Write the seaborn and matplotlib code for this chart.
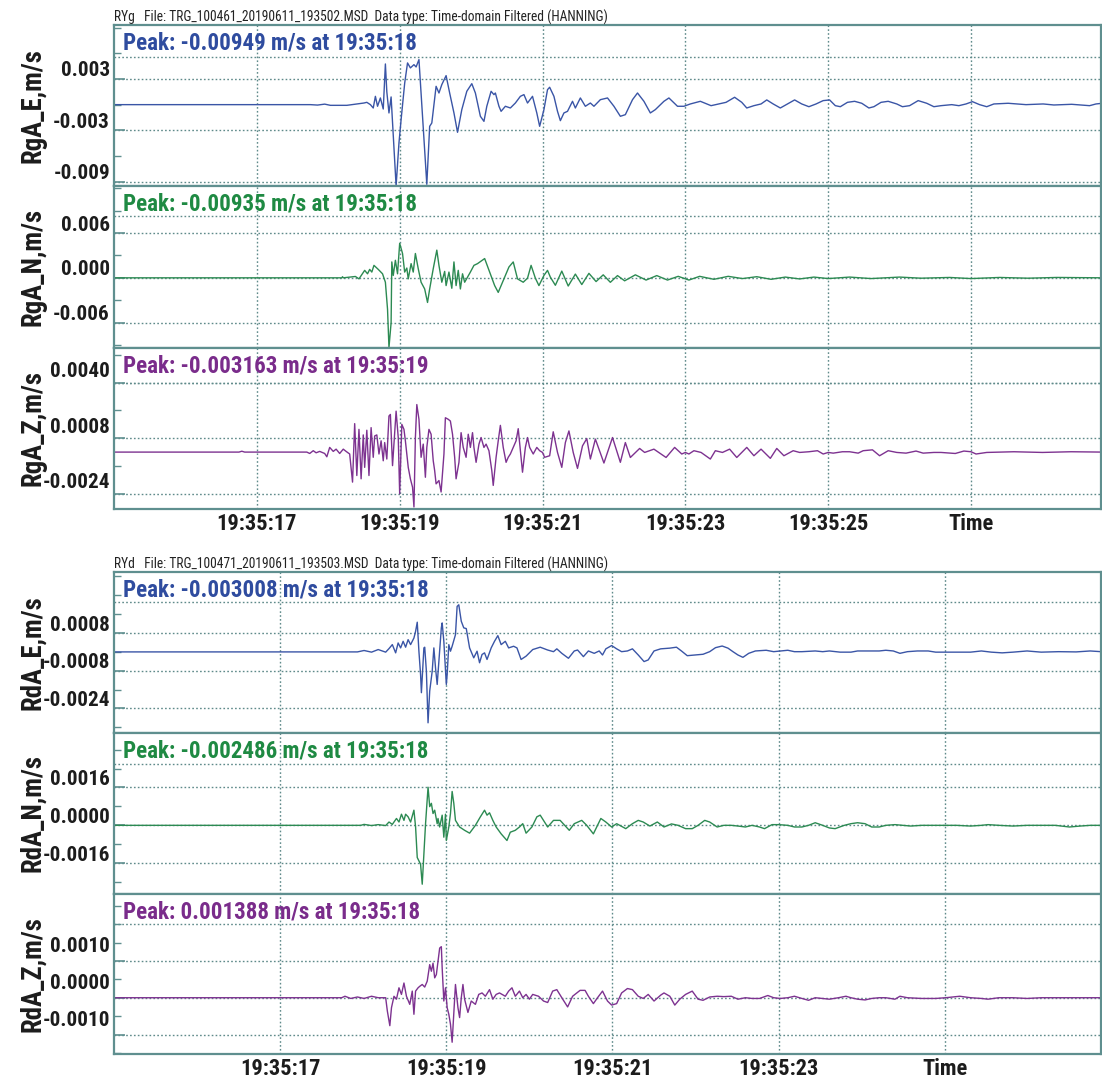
import os
import glob
import matplotlib
matplotlib.use("Agg")
import matplotlib.pyplot as plt
from matplotlib import font_manager
from matplotlib.font_manager import FontProperties
import numpy as np
import pandas as pd
import seaborn as sns

# ------------------------------------------------------------------
# Velocity records, time in seconds after 19:35:00, velocity in mm/s
# ------------------------------------------------------------------
rga_e_t = [15.00, 17.75, 17.85, 17.95, 18.03, 18.26, 18.50, 18.54, 18.59, 18.63, 18.66, 18.69, 18.73, 18.77,
           18.80, 18.82, 18.85, 18.88, 18.95, 18.99, 19.02, 19.07, 19.11, 19.15, 19.20, 19.23, 19.27, 19.38,
           19.42, 19.45, 19.51, 19.55, 19.59, 19.65, 19.70, 19.76, 19.81, 19.87, 19.94, 20.01, 20.06, 20.13,
           20.18, 20.22, 20.28, 20.32, 20.34, 20.39, 20.42, 20.48, 20.55, 20.62, 20.69, 20.74, 20.79, 20.86,
           20.92, 20.96, 21.02, 21.07, 21.10, 21.16, 21.21, 21.25, 21.30, 21.35, 21.42, 21.46, 21.53, 21.60,
           21.67, 21.72, 21.81, 21.91, 22.00, 22.09, 22.16, 22.26, 22.33, 22.42, 22.51, 22.58, 22.70, 22.77,
           22.89, 22.98, 23.07, 23.21, 23.36, 23.47, 23.57, 23.69, 23.79, 23.86, 23.96, 24.06, 24.14, 24.23,
           24.33, 24.43, 24.53, 24.63, 24.73, 24.83, 24.93, 25.02, 25.10, 25.17, 25.27, 25.37, 25.47, 25.57,
           25.64, 25.74, 25.84, 25.96, 26.04, 26.14, 26.26, 26.38, 26.48, 26.58, 26.73, 26.83, 26.93, 27.02,
           27.12, 27.22, 27.32, 27.52, 27.77, 28.01, 28.16, 28.41, 28.66, 28.75, 28.84]
rga_e_v = [0.00, 0.00, -0.05, 0.06, -0.08, -0.08, 0.19, 0.27, 0.00, -0.39, 0.97, -0.19, 0.78, -0.51,
           4.75, 1.50, -0.97, 0.90, -9.49, -4.48, -1.75, 2.50, 4.87, 4.29, 4.67, 4.40, 5.26, -9.30,
           -2.53, -2.14, 2.14, 1.36, 2.34, 3.39, 1.36, -0.97, -3.23, -0.58, 1.56, 2.45, 1.36, -1.36,
           -1.95, -0.19, 1.56, 1.17, 1.36, -0.19, -0.78, -0.19, -0.39, 0.19, 0.97, 1.17, 0.19, 0.97,
           -0.97, -2.53, -0.58, 1.75, 2.03, 0.97, -0.78, -1.87, -0.97, -0.78, 0.39, -0.39, 0.78, -0.19,
           0.19, -0.19, 0.58, 0.78, -0.19, -1.36, -1.17, 0.58, 1.36, 0.39, -0.97, -0.58, 0.39, 0.78,
           -0.19, -0.19, 0.08, 0.39, -0.12, 0.08, 0.27, 0.86, 0.27, -0.39, -0.12, 0.08, 0.55, 0.08,
           -0.39, 0.08, 0.55, 0.08, -0.24, 0.08, 0.47, 0.55, -0.12, -0.24, 0.27, 0.39, 0.16, -0.39,
           -0.24, 0.27, 0.39, 0.08, -0.24, -0.12, 0.47, 0.16, -0.24, -0.12, 0.00, -0.12, 0.08, 0.35,
           0.00, -0.24, 0.08, 0.16, 0.00, 0.08, -0.04, 0.04, -0.12, 0.08, 0.16]

rga_n_t = [15.00, 18.19, 18.20, 18.21, 18.38, 18.43, 18.51, 18.55, 18.58, 18.61, 18.64, 18.70, 18.76, 18.80,
           18.83, 18.85, 18.88, 18.89, 18.91, 18.94, 18.97, 19.00, 19.04, 19.07, 19.10, 19.12, 19.16, 19.19,
           19.22, 19.26, 19.30, 19.35, 19.39, 19.42, 19.47, 19.52, 19.55, 19.59, 19.63, 19.65, 19.69, 19.73,
           19.76, 19.79, 19.82, 19.85, 19.88, 19.91, 19.95, 19.99, 20.04, 20.09, 20.19, 20.26, 20.33, 20.38,
           20.46, 20.53, 20.59, 20.65, 20.73, 20.79, 20.84, 20.90, 20.95, 21.02, 21.07, 21.11, 21.18, 21.27,
           21.36, 21.46, 21.55, 21.65, 21.75, 21.85, 21.95, 22.05, 22.15, 22.30, 22.45, 22.60, 22.75, 22.90,
           23.05, 23.20, 23.40, 23.60, 23.80, 24.00, 24.20, 24.40, 24.60, 24.80, 25.00, 25.30, 25.60, 26.00,
           26.30, 26.70, 27.00, 27.40, 27.80, 28.20, 28.84]
rga_n_v = [0.00, 0.00, 0.15, 0.00, 0.18, -0.14, 1.00, 0.54, 1.13, 0.77, 1.67, 1.13, 0.54, -0.59,
           -4.21, -9.35, -6.02, 2.13, 0.32, 2.35, 0.54, 4.62, 3.26, 0.77, 1.31, -0.14, 1.90, 0.77,
           3.26, 1.22, -0.59, -1.49, -3.30, -1.49, 1.22, 3.71, 1.67, -0.59, 0.86, -1.04, 0.77, -1.40,
           2.13, -1.04, 1.00, -1.49, 0.54, -0.59, 0.09, 0.77, 1.67, 1.90, 2.58, 0.77, -1.04, -1.95,
           -0.14, 1.45, 2.13, -0.14, -0.59, -0.05, 1.67, -0.05, -1.04, 0.32, 1.00, 0.09, -1.00, 0.90,
           -1.10, 0.50, -0.90, 0.60, -0.50, 0.40, -0.60, 0.30, -0.40, 0.40, -0.30, 0.30, -0.30, 0.20,
           -0.30, 0.20, -0.20, 0.20, -0.10, 0.15, -0.20, 0.10, -0.15, 0.10, -0.10, 0.10, -0.10, 0.10,
           -0.05, 0.05, -0.10, 0.05, -0.05, 0.05, 0.00]

rga_z_t = [15.00, 16.75, 16.79, 16.83, 17.70, 17.74, 17.79, 17.83, 17.88, 17.95, 17.98, 18.02, 18.07, 18.11,
           18.16, 18.21, 18.25, 18.30, 18.34, 18.37, 18.40, 18.43, 18.46, 18.49, 18.51, 18.54, 18.57, 18.60,
           18.63, 18.65, 18.68, 18.71, 18.74, 18.77, 18.79, 18.82, 18.85, 18.87, 18.90, 18.93, 18.95, 18.98,
           19.00, 19.03, 19.06, 19.08, 19.12, 19.15, 19.18, 19.20, 19.22, 19.24, 19.27, 19.30, 19.33, 19.36,
           19.38, 19.41, 19.44, 19.47, 19.49, 19.51, 19.55, 19.58, 19.62, 19.64, 19.68, 19.71, 19.74, 19.77,
           19.79, 19.83, 19.86, 19.89, 19.93, 19.96, 19.99, 20.02, 20.04, 20.07, 20.11, 20.14, 20.18, 20.21,
           20.25, 20.29, 20.31, 20.35, 20.38, 20.41, 20.45, 20.49, 20.52, 20.55, 20.59, 20.63, 20.66, 20.69,
           20.72, 20.76, 20.79, 20.82, 20.87, 20.92, 20.96, 21.00, 21.03, 21.10, 21.15, 21.21, 21.27, 21.32,
           21.37, 21.43, 21.49, 21.56, 21.62, 21.67, 21.74, 21.86, 21.98, 22.09, 22.16, 22.23, 22.36, 22.43,
           22.56, 22.73, 22.85, 22.95, 23.00, 23.05, 23.12, 23.22, 23.35, 23.42, 23.52, 23.62, 23.72, 23.86,
           23.96, 24.06, 24.19, 24.28, 24.38, 24.51, 24.60, 24.73, 24.85, 24.93, 25.00, 25.07, 25.20, 25.30,
           25.42, 25.49, 25.62, 25.72, 25.84, 25.96, 26.09, 26.23, 26.33, 26.48, 26.58, 26.78, 26.90, 27.00,
           27.07, 27.22, 27.60, 28.00, 28.40, 28.84]
rga_z_v = [0.00, 0.00, 0.05, 0.00, 0.00, -0.08, 0.08, -0.04, 0.04, -0.08, -0.27, 0.27, 0.04, 0.17,
           -0.08, 0.17, 0.04, -0.11, -1.73, 1.64, -1.35, 1.31, -1.54, 0.99, -0.88, 1.26, -1.35, 1.41,
           -0.30, 0.93, 0.99, -0.11, 0.65, -0.50, 0.55, -0.40, 2.08, 2.17, -0.78, 1.12, 2.36, 0.84,
           -2.40, 1.60, 1.31, 0.65, -0.88, -1.54, -2.02, -3.163, 0.84, 2.74, 1.89, -0.30, 0.46, -1.45,
           0.27, 1.31, 1.03, -0.50, -1.07, -1.83, -1.64, -2.30, -0.11, 1.98, 1.89, 1.79, 1.03, -0.30,
           -1.54, -0.59, 1.12, 0.27, -0.30, 1.03, 0.27, 1.12, 0.27, -0.59, 0.46, 0.84, 0.27, 0.46,
           0.08, -1.07, -1.92, -0.30, 0.65, 1.54, 0.27, -0.59, -0.30, -0.11, 0.27, 0.65, 1.35, 0.08,
           -1.16, 0.27, 0.84, 0.27, -0.11, 0.27, 0.08, -0.02, -0.30, -0.21, 1.17, -0.02, -0.88, 0.55,
           1.22, -0.02, -0.94, 0.36, 0.78, -0.40, 0.75, -0.63, 0.84, -0.59, 0.55, -0.31, 0.21, -0.02,
           0.17, -0.31, 0.27, -0.11, -0.02, -0.11, 0.08, -0.02, -0.40, 0.08, -0.02, 0.17, -0.31, 0.27,
           -0.21, 0.17, -0.36, 0.21, -0.21, 0.08, -0.02, 0.02, 0.08, -0.11, -0.02, -0.06, 0.02, 0.02,
           -0.06, 0.08, 0.13, -0.21, 0.08, -0.02, -0.06, 0.06, -0.06, -0.02, -0.02, -0.08, 0.06, 0.02,
           -0.11, -0.02, 0.02, -0.02, 0.02, 0.00]

rda_e_t = [15.00, 17.93, 18.01, 18.10, 18.18, 18.27, 18.31, 18.35, 18.39, 18.42, 18.45, 18.48, 18.51, 18.54,
           18.57, 18.61, 18.63, 18.65, 18.67, 18.69, 18.70, 18.73, 18.74, 18.76, 18.78, 18.80, 18.83, 18.85,
           18.87, 18.89, 18.92, 18.94, 18.95, 18.97, 19.00, 19.01, 19.03, 19.05, 19.07, 19.11, 19.13, 19.15,
           19.18, 19.21, 19.24, 19.28, 19.33, 19.37, 19.40, 19.43, 19.46, 19.49, 19.54, 19.58, 19.62, 19.66,
           19.71, 19.75, 19.81, 19.85, 19.90, 19.96, 20.04, 20.13, 20.22, 20.29, 20.33, 20.39, 20.47, 20.54,
           20.58, 20.65, 20.71, 20.78, 20.84, 20.88, 20.92, 20.99, 21.05, 21.11, 21.18, 21.24, 21.31, 21.38,
           21.43, 21.50, 21.58, 21.69, 21.77, 21.83, 21.90, 22.00, 22.09, 22.17, 22.24, 22.32, 22.39, 22.45,
           22.51, 22.57, 22.64, 22.72, 22.85, 22.94, 23.02, 23.11, 23.19, 23.28, 23.44, 23.53, 23.61, 23.74,
           23.87, 23.95, 24.04, 24.21, 24.29, 24.38, 24.46, 24.55, 24.67, 24.80, 24.89, 25.01, 25.14, 25.31,
           25.44, 25.56, 25.69, 25.82, 25.99, 26.16, 26.37, 26.58, 26.75, 26.88]
rda_e_v = [0.00, 0.00, 0.06, -0.01, 0.10, -0.01, 0.14, 0.31, -0.04, 0.38, 0.17, 0.45, 0.20, 0.52,
           0.31, 0.59, 0.87, 1.26, 0.03, -0.96, -1.73, 0.17, 0.20, -0.82, -3.008, -1.66, -0.82, 0.17,
           -0.68, -1.38, 0.03, 1.02, 1.23, 0.45, -1.38, -0.96, 0.31, 0.03, 0.24, 0.73, 1.93, 2.00,
           1.30, 1.02, 0.99, 0.17, -0.25, 0.03, -0.46, -0.11, -0.04, -0.32, 0.17, 0.45, 0.69, 0.31,
           0.45, 0.17, 0.24, 0.17, -0.32, -0.18, 0.10, 0.20, 0.08, 0.01, 0.13, -0.06, -0.27, 0.04,
           0.08, -0.20, 0.04, -0.06, 0.04, -0.13, 0.13, 0.27, 0.13, 0.01, 0.04, 0.13, -0.13, -0.41,
           -0.34, 0.04, 0.13, 0.16, 0.20, 0.04, -0.16, -0.13, -0.10, 0.01, 0.18, 0.25, 0.16, 0.01,
           -0.13, -0.23, -0.06, 0.04, 0.07, 0.01, 0.04, 0.07, 0.01, 0.01, 0.04, 0.01, 0.04, -0.01,
           -0.01, 0.04, 0.04, 0.04, 0.07, 0.04, -0.06, 0.01, 0.04, 0.04, -0.01, -0.01, -0.01, -0.01,
           0.04, -0.01, -0.04, -0.01, 0.04, -0.01, 0.01, 0.00, 0.04, 0.01]

rda_n_t = [15.00, 17.97, 18.01, 18.10, 18.18, 18.27, 18.31, 18.35, 18.40, 18.43, 18.46, 18.49, 18.51, 18.54,
           18.57, 18.61, 18.63, 18.65, 18.67, 18.69, 18.71, 18.73, 18.75, 18.78, 18.80, 18.82, 18.84, 18.86,
           18.89, 18.90, 18.92, 18.95, 18.97, 18.99, 19.00, 19.03, 19.05, 19.07, 19.09, 19.11, 19.16, 19.22,
           19.28, 19.35, 19.41, 19.46, 19.49, 19.52, 19.56, 19.60, 19.66, 19.73, 19.77, 19.83, 19.88, 19.92,
           19.96, 20.03, 20.09, 20.13, 20.17, 20.22, 20.29, 20.37, 20.48, 20.54, 20.63, 20.69, 20.77, 20.82,
           20.86, 20.92, 20.99, 21.05, 21.16, 21.24, 21.31, 21.37, 21.45, 21.54, 21.62, 21.71, 21.79, 21.88,
           21.96, 22.03, 22.11, 22.17, 22.26, 22.34, 22.43, 22.51, 22.60, 22.68, 22.77, 22.83, 22.92, 23.00,
           23.11, 23.19, 23.28, 23.36, 23.44, 23.53, 23.61, 23.68, 23.79, 23.87, 23.95, 24.04, 24.12, 24.21,
           24.29, 24.40, 24.50, 24.59, 24.72, 24.85, 25.01, 25.14, 25.31, 25.44, 25.52, 25.65, 25.82, 25.99,
           26.16, 26.33, 26.50, 26.63, 26.75, 26.88]
rda_n_v = [0.00, 0.00, 0.04, -0.01, 0.03, -0.01, 0.14, 0.04, 0.29, 0.14, 0.47, 0.21, 0.47, 0.36,
           0.14, 0.64, -0.07, -1.36, -1.50, -1.64, -2.486, -1.21, 0.07, 1.61, 0.79, 0.93, 0.50, 0.64,
           0.07, 0.29, -0.07, 0.43, -0.50, 0.47, -0.64, -0.07, 0.50, 1.43, 0.93, 0.21, -0.07, -0.21,
           -0.33, 0.00, 0.36, 0.64, 0.43, 0.53, 0.21, -0.07, -0.36, -0.64, -0.29, -0.21, -0.07, 0.07,
           -0.33, -0.07, 0.36, 0.43, 0.21, -0.07, 0.21, 0.21, -0.21, 0.07, 0.21, 0.00, -0.36, 0.00,
           0.29, 0.14, -0.07, 0.07, -0.14, 0.07, 0.21, 0.14, -0.03, 0.14, -0.07, 0.06, 0.00, -0.14,
           -0.14, 0.00, 0.21, 0.14, -0.07, 0.00, 0.00, -0.03, -0.07, 0.00, -0.07, -0.14, 0.03, 0.03,
           0.00, -0.07, -0.07, 0.00, 0.11, 0.00, -0.11, -0.14, 0.00, 0.07, 0.11, 0.07, -0.07, -0.07,
           0.00, 0.03, 0.00, -0.03, 0.00, 0.00, 0.00, 0.00, -0.03, 0.00, 0.03, 0.00, -0.03, 0.00,
           0.00, 0.00, -0.07, -0.03, 0.00, 0.00]

rda_z_t = [15.00, 17.74, 17.78, 17.85, 17.93, 18.01, 18.10, 18.18, 18.27, 18.29, 18.32, 18.34, 18.37, 18.40,
           18.43, 18.46, 18.49, 18.52, 18.56, 18.59, 18.61, 18.63, 18.66, 18.68, 18.71, 18.74, 18.77, 18.80,
           18.82, 18.84, 18.86, 18.88, 18.90, 18.92, 18.94, 18.95, 18.97, 18.99, 19.01, 19.03, 19.05, 19.07,
           19.09, 19.11, 19.14, 19.16, 19.18, 19.20, 19.22, 19.26, 19.30, 19.35, 19.39, 19.43, 19.47, 19.52,
           19.56, 19.60, 19.64, 19.71, 19.75, 19.79, 19.83, 19.88, 19.92, 19.96, 20.00, 20.04, 20.11, 20.17,
           20.22, 20.28, 20.33, 20.39, 20.46, 20.52, 20.61, 20.67, 20.71, 20.77, 20.82, 20.88, 20.94, 20.99,
           21.05, 21.11, 21.18, 21.24, 21.31, 21.37, 21.43, 21.50, 21.58, 21.62, 21.69, 21.75, 21.81, 21.88,
           21.96, 22.03, 22.09, 22.17, 22.26, 22.34, 22.43, 22.51, 22.60, 22.68, 22.77, 22.87, 22.94, 23.02,
           23.11, 23.19, 23.28, 23.36, 23.44, 23.53, 23.61, 23.72, 23.81, 23.87, 23.95, 24.04, 24.12, 24.21,
           24.29, 24.40, 24.46, 24.55, 24.72, 24.89, 25.01, 25.18, 25.31, 25.44, 25.52, 25.65, 25.82, 25.99,
           26.16, 26.50, 26.88]
rda_z_v = [0.00, 0.00, 0.04, -0.02, 0.02, -0.02, 0.04, 0.00, 0.00, -0.36, -0.76, -0.27, 0.04, -0.04,
           0.27, 0.09, 0.40, 0.04, -0.18, 0.18, -0.45, 0.18, 0.27, 0.31, 0.36, 0.29, 0.45, 0.90,
           0.72, 0.94, 0.54, 0.63, 0.99, 1.35, 1.388, 0.81, -0.09, 0.27, -0.27, -0.45, -0.72, -1.21,
           -0.45, 0.36, -0.27, -0.54, 0.00, 0.36, -0.04, -0.40, -0.09, -0.18, 0.09, 0.13, 0.04, 0.22,
           -0.04, 0.09, 0.13, 0.04, 0.18, 0.27, 0.04, 0.18, 0.00, 0.09, -0.04, 0.09, 0.04, -0.09,
           -0.13, 0.18, 0.22, 0.00, -0.25, 0.04, 0.20, 0.20, 0.04, -0.16, 0.00, 0.18, -0.09, -0.20,
           -0.16, 0.13, 0.25, 0.22, 0.04, -0.02, 0.09, -0.09, 0.07, 0.13, 0.04, -0.20, -0.04, 0.09,
           0.18, -0.04, -0.07, 0.02, 0.04, 0.03, 0.04, -0.04, 0.00, -0.02, -0.02, 0.06, 0.00, -0.02,
           0.00, 0.04, -0.02, -0.07, 0.00, -0.02, -0.04, 0.00, 0.04, 0.00, -0.04, -0.06, -0.02, 0.00,
           0.00, -0.04, 0.04, 0.00, -0.02, -0.02, 0.00, 0.04, 0.00, -0.02, -0.04, 0.00, 0.00, -0.02,
           0.00, 0.00, 0.00]

channel_names = ["RgA_E,m/s", "RgA_N,m/s", "RgA_Z,m/s", "RdA_E,m/s", "RdA_N,m/s", "RdA_Z,m/s"]
peak_titles = ["Peak: -0.00949 m/s at 19:35:18", "Peak: -0.00935 m/s at 19:35:18",
               "Peak: -0.003163 m/s at 19:35:19", "Peak: -0.003008 m/s at 19:35:18",
               "Peak: -0.002486 m/s at 19:35:18", "Peak: 0.001388 m/s at 19:35:18"]
y_ticks = [[0.003, -0.003, -0.009], [0.006, 0.0, -0.006], [0.004, 0.0008, -0.0024],
           [0.0008, -0.0008, -0.0024], [0.0016, 0.0, -0.0016], [0.001, 0.0, -0.001]]
y_tick_fmt = ["{:.3f}", "{:.3f}", "{:.4f}", "{:.4f}", "{:.4f}", "{:.4f}"]
headers = ["RYg   File: TRG_100461_20190611_193502.MSD  Data type: Time-domain Filtered (HANNING)",
           "RYd   File: TRG_100471_20190611_193503.MSD  Data type: Time-domain Filtered (HANNING)"]
x_ticks_top = [17, 19, 21, 23, 25, 27]
x_labels_top = ["19:35:17", "19:35:19", "19:35:21", "19:35:23", "19:35:25", "Time"]
x_ticks_bottom = [17, 19, 21, 23, 25]
x_labels_bottom = ["19:35:17", "19:35:19", "19:35:21", "19:35:23", "Time"]

series = [(rga_e_t, rga_e_v), (rga_n_t, rga_n_v), (rga_z_t, rga_z_v),
          (rda_e_t, rda_e_v), (rda_n_t, rda_n_v), (rda_z_t, rda_z_v)]

# ------------------------------------------------------------------
# Fonts: prefer a narrow sans face, fall back to Liberation Sans
# ------------------------------------------------------------------
sns.set_style("white")
plt.rcParams["font.family"] = ["Liberation Sans", "DejaVu Sans"]


def find_font(basenames):
    known = {}
    for f in font_manager.fontManager.ttflist:
        known.setdefault(os.path.basename(f.fname).lower(), f.fname)
    for path in glob.glob("/usr/share/fonts/**/*.[ot]tf", recursive=True):
        known.setdefault(os.path.basename(path).lower(), path)
    for name in basenames:
        if name.lower() in known:
            return known[name.lower()]
    return None


bold_path = find_font(["LiberationSansNarrow-Bold.ttf", "ArialNarrowBold.ttf", "arialnb.ttf",
                       "NotoSans-CondensedBold.ttf", "RobotoCondensed-Bold.ttf",
                       "DejaVuSansCondensed-Bold.ttf"])
reg_path = find_font(["LiberationSansNarrow-Regular.ttf", "ArialNarrow.ttf", "arialn.ttf",
                      "NotoSans-Condensed.ttf", "RobotoCondensed-Regular.ttf",
                      "DejaVuSansCondensed.ttf"])
BOLD = FontProperties(fname=bold_path) if bold_path else FontProperties(
    family=["Liberation Sans", "DejaVu Sans"], weight="bold")
REG = FontProperties(fname=reg_path) if reg_path else FontProperties(
    family=["Liberation Sans", "DejaVu Sans"])

W, H = 1102, 1079
fig = plt.figure(figsize=(W / 100, H / 100), dpi=100)
renderer = fig.canvas.get_renderer()


def sized(fp, text, width_px):
    """Font properties scaled so that `text` spans about `width_px` pixels."""
    probe = fp.copy()
    probe.set_size(20)
    t = fig.text(0, 0, text, fontproperties=probe)
    w = t.get_window_extent(renderer).width
    t.remove()
    out = fp.copy()
    out.set_size(20 * width_px / w)
    return out


FP_TITLE = sized(BOLD, "Peak: -0.00949 m/s at 19:35:18", 294)
FP_YTICK = sized(BOLD, "-0.0024", 67)
FP_XTICK = sized(BOLD, "19:35:17", 80)
FP_YLAB = sized(BOLD, "RgA_E,m/s", 115)
FP_HEAD = sized(REG, headers[0], 497)

BLUE, GREEN, PURPLE = "#2f4c9f", "#1f8a43", "#7a2c8b"
LINE_BLUE, LINE_GREEN, LINE_PURPLE = "#3a55a6", "#2c8a52", "#7d3290"
FRAME = "#5f8f8f"
GRID = "#5f8a8a"
INK = "#1c1c1c"
colors = [(BLUE, LINE_BLUE), (GREEN, LINE_GREEN), (PURPLE, LINE_PURPLE)] * 2

AX_L, AX_R = 114, 1101
panel_px = [(25, 186), (186, 348), (348, 509), (572, 733), (733, 894), (894, 1054)]
ylims = [(-0.0095, 0.0093), (-0.0094, 0.0123), (-0.00328, 0.0060),
         (-0.00344, 0.00339), (-0.0029, 0.0039), (-0.00153, 0.00282)]
separator = [0.0056, 0.0083, 0.0040, 0.0021, 0.0026, 0.0020]
label_lift = [8, 8, 11, 8, 8, 14]
xlims = [(15.0, 28.82)] * 3 + [(15.0, 26.88)] * 3
DOTS = (0, (1.2, 1.6))

for i, ((t, v), (tcol, lcol)) in enumerate(zip(series, colors)):
    top, bot = panel_px[i]
    ax = fig.add_axes([AX_L / W, 1 - bot / H, (AX_R - AX_L) / W, (bot - top) / H])
    df = pd.DataFrame({"time": t, "velocity": np.asarray(v) / 1000.0})
    sns.lineplot(data=df, x="time", y="velocity", ax=ax, color=lcol, linewidth=1.0,
                 estimator=None, sort=False)
    ax.set_xlim(*xlims[i])
    ax.set_ylim(*ylims[i])
    ax.set_xlabel("")
    ax.set_ylabel("")

    for sp in ax.spines.values():
        sp.set_color(FRAME)
        sp.set_linewidth(1.6)

    # time axis
    xt = x_ticks_top if i < 3 else x_ticks_bottom
    xl = x_labels_top if i < 3 else x_labels_bottom
    ax.set_xticks(xt)
    if i in (2, 5):
        ax.set_xticklabels(xl, fontproperties=FP_XTICK, color=INK)
    else:
        ax.set_xticklabels([])
    ax.tick_params(axis="x", direction="in", length=7, width=1.2, color=FRAME, pad=3)
    for x in xt:
        ax.axvline(x, color=GRID, lw=1.0, ls=DOTS, zorder=0)

    # value axis
    ticks = y_ticks[i]
    ax.set_yticks(ticks)
    ax.set_yticklabels([])
    half = (ticks[0] - ticks[1]) / 2
    lo, hi = ylims[i]
    n_lo = int(np.floor((ticks[-1] - lo) / half))
    n_hi = int(np.floor((hi - ticks[-1]) / half))
    minors = [ticks[-1] + half * k for k in range(-n_lo, n_hi + 1)]
    minors = [m for m in minors if all(abs(m - tk) > 1e-9 for tk in ticks)]
    ax.set_yticks(minors, minor=True)
    ax.tick_params(axis="y", which="major", direction="in", length=8, width=1.2,
                   color=FRAME, left=True, right=False)
    ax.tick_params(axis="y", which="minor", direction="in", length=5, width=1.0,
                   color=FRAME, left=True, right=False)
    for y in ticks:
        ax.axhline(y, color=GRID, lw=1.0, ls=DOTS, zorder=0)
        ax.annotate(y_tick_fmt[i].format(y), xy=(0, y), xycoords=("axes fraction", "data"),
                    xytext=(-4, label_lift[i]), textcoords="offset pixels",
                    ha="right", va="center", fontproperties=FP_YTICK, color=INK,
                    annotation_clip=False)
    ax.axhline(separator[i], color=GRID, lw=1.0, ls=DOTS, zorder=0)

    # peak caption
    ax.annotate(peak_titles[i], xy=(0, 1), xycoords="axes fraction",
                xytext=(9, -18), textcoords="offset pixels", ha="left", va="center",
                fontproperties=FP_TITLE, color=tcol)

    # channel name
    fig.text(33 / W, 1 - ((top + bot) / 2) / H, channel_names[i], rotation=90,
             ha="center", va="center", fontproperties=FP_YLAB, color=INK)

# file headers above each group
for hdr, y in zip(headers, [17, 564]):
    fig.text(AX_L / W, 1 - y / H, hdr, ha="left", va="center", fontproperties=FP_HEAD,
             color="#222222")

fig.savefig("out.png", dpi=100, facecolor="white")
